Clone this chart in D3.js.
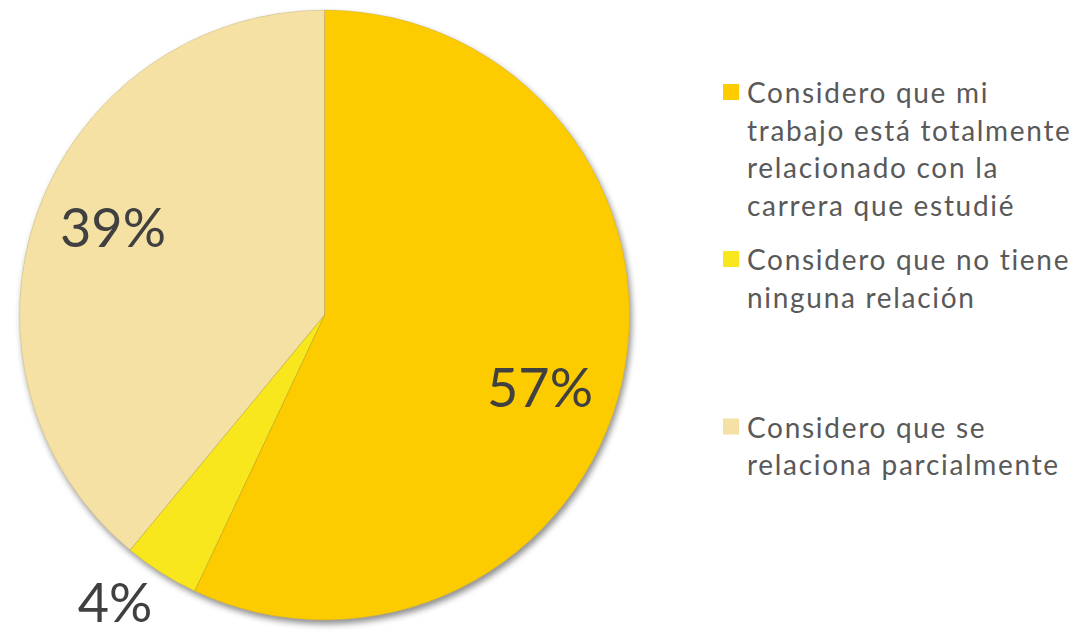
<!DOCTYPE html>
<html>
<head>
<meta charset="utf-8">
<script src="https://cdn.jsdelivr.net/npm/d3@7"></script>
<style>
  html, body { margin: 0; padding: 0; background: #ffffff; }
  svg { display: block; }
</style>
</head>
<body>
<svg id="chart" width="1075" height="634"></svg>
<script>
// Relación entre el trabajo actual y la carrera estudiada
const categories = [
  "Considero que mi trabajo está totalmente relacionado con la carrera que estudié",
  "Considero que no tiene ninguna relación",
  "Considero que se relaciona parcialmente"
];
const values = [57, 4, 39];
const valueLabels = ["57%", "4%", "39%"];
const legendLines = [
  ["Considero que mi", "trabajo está totalmente", "relacionado con la", "carrera que estudié"],
  ["Considero que no tiene", "ninguna relación"],
  ["Considero que se", "relaciona parcialmente"]
];
const colors = ["#FDCC00", "#F8E71C", "#F4E1A3"];

const svg = d3.select("#chart");
const cx = 324.5, cy = 315, r = 305;

// soft outer shadow under the pie
const defs = svg.append("defs");
const f = defs.append("filter").attr("id", "pieShadow")
  .attr("x", "-10%").attr("y", "-10%").attr("width", "120%").attr("height", "120%");
f.append("feDropShadow")
  .attr("dx", 2).attr("dy", 4).attr("stdDeviation", 3)
  .attr("flood-color", "#000").attr("flood-opacity", 0.45);

const color = d3.scaleOrdinal().domain(categories).range(colors);

const pie = d3.pie().sort(null).value(d => d.value);
const data = pie(categories.map((c, i) => ({ cat: c, value: values[i], label: valueLabels[i] })));
const arc = d3.arc().innerRadius(0).outerRadius(r);

const g = svg.append("g").attr("transform", `translate(${cx},${cy})`);

g.append("g").attr("filter", "url(#pieShadow)")
  .selectAll("path").data(data).join("path")
  .attr("d", arc)
  .attr("fill", d => color(d.data.cat))
  .attr("stroke", "rgba(120,100,40,0.25)")
  .attr("stroke-width", 0.8);

// percentage labels (baseline positions relative to the pie centre)
const labelPos = [
  [215.5, 92],   // 57%
  [-209.5, 307], // 4%
  [-211.5, -68]  // 39%
];
g.selectAll("text.pct").data(data).join("text")
  .attr("class", "pct")
  .attr("x", (d, i) => labelPos[i][0])
  .attr("y", (d, i) => labelPos[i][1])
  .attr("text-anchor", "middle")
  .attr("font-family", "Lato, 'Open Sans', sans-serif")
  .attr("font-size", 54)
  .attr("fill", "#404040")
  .text(d => d.data.label);

// legend
const legendTop = [103, 270, 437.5];
const lineH = 37.5;
const legend = svg.append("g");
categories.forEach((c, i) => {
  const item = legend.append("g");
  item.append("rect")
    .attr("x", 723).attr("y", legendTop[i] - 19)
    .attr("width", 16).attr("height", 16)
    .attr("fill", color(c));
  const t = item.append("text")
    .attr("font-family", "Lato, 'Open Sans', sans-serif")
    .attr("font-size", 28)
    .attr("letter-spacing", 1.7)
    .attr("fill", "#595959");
  legendLines[i].forEach((ln, j) => {
    t.append("tspan").attr("x", 747).attr("y", legendTop[i] + j * lineH).text(ln);
  });
});
</script>
</body>
</html>
